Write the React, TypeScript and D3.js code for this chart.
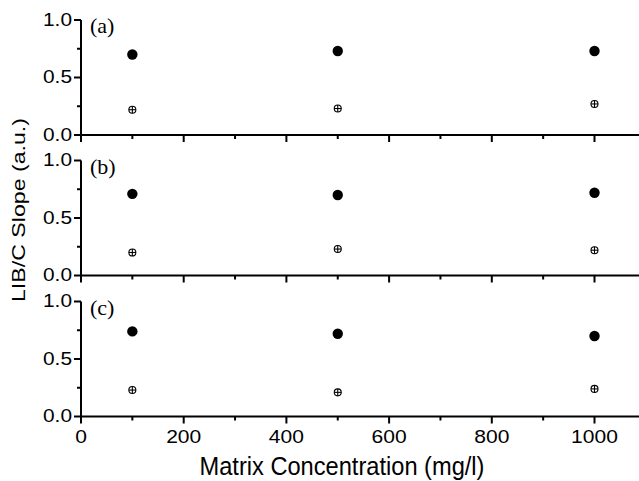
import React from "react";
import * as d3 from "d3";

const concentrations = [100, 500, 1000];
const panelLabels = ["(a)", "(b)", "(c)"];
const filledSeries = [
  [0.70, 0.73, 0.73],
  [0.71, 0.70, 0.72],
  [0.74, 0.72, 0.70],
];
const crossedSeries = [
  [0.22, 0.23, 0.27],
  [0.20, 0.23, 0.22],
  [0.23, 0.21, 0.24],
];
const xTicks = [0, 200, 400, 600, 800, 1000];
const xMinor = [100, 300, 500, 700, 900];
const yTicks = [0, 0.5, 1.0];
const yMinor = [0.25, 0.75];

const W = 639;
const H = 481;
const left = 81;
const panelTops = [20, 160.5, 301.5];
const panelH = 115;
const SANS = "Liberation Sans, Arial, sans-serif";

export default function App() {
  const x = d3.scaleLinear().domain([0, 1000]).range([left, 594.5]);
  const xEnd = 639;
  return (
    <svg width={W} height={H} style={{ position: "absolute", left: 0, top: 0, background: "#fff" }}>
      {panelTops.map((top, pi) => {
        const y = d3.scaleLinear().domain([0, 1]).range([top + panelH, top]);
        const base = top + panelH;
        return (
          <g key={pi}>
            <line x1={left} x2={left} y1={top} y2={base} stroke="#000" strokeWidth={2} />
            {yTicks.map((t) => (
              <g key={t}>
                <line x1={left - 7} x2={left} y1={y(t)} y2={y(t)} stroke="#000" strokeWidth={2} />
                <text
                  x={left - 9}
                  y={y(t) + 5.5}
                  textAnchor="end"
                  fontFamily={SANS}
                  fontSize={18.5}
                  textLength={29}
                  lengthAdjust="spacingAndGlyphs"
                >
                  {d3.format(".1f")(t)}
                </text>
              </g>
            ))}
            {yMinor.map((t) => (
              <line key={t} x1={left - 4} x2={left} y1={y(t)} y2={y(t)} stroke="#000" strokeWidth={2} />
            ))}
            <line x1={left - 1} x2={xEnd} y1={base} y2={base} stroke="#000" strokeWidth={2.2} />
            {xTicks.map((t) => (
              <line key={t} x1={x(t)} x2={x(t)} y1={base} y2={base + 7} stroke="#000" strokeWidth={2} />
            ))}
            {xMinor.map((t) => (
              <line key={t} x1={x(t)} x2={x(t)} y1={base} y2={base + 4} stroke="#000" strokeWidth={2} />
            ))}
            {pi === 2 &&
              xTicks.map((t) => (
                <text
                  key={t}
                  x={x(t)}
                  y={base + 26}
                  textAnchor="middle"
                  fontFamily={SANS}
                  fontSize={18.5}
                  textLength={String(t).length * 11.7}
                  lengthAdjust="spacingAndGlyphs"
                >
                  {t}
                </text>
              ))}
            <text x={90} y={top + 13} fontFamily="Liberation Serif, Times New Roman, serif" fontSize={22}>
              {panelLabels[pi]}
            </text>
            {concentrations.map((c, i) => (
              <circle key={"f" + i} cx={x(c)} cy={y(filledSeries[pi][i])} r={5.2} fill="#000" />
            ))}
            {concentrations.map((c, i) => {
              const cx = x(c);
              const cy = y(crossedSeries[pi][i]);
              const r = 3.5;
              return (
                <g key={"c" + i}>
                  <circle cx={cx} cy={cy} r={r} fill="#fff" stroke="#000" strokeWidth={1.1} />
                  <line x1={cx - r} x2={cx + r} y1={cy} y2={cy} stroke="#000" strokeWidth={1.1} />
                  <line x1={cx} x2={cx} y1={cy - r} y2={cy + r} stroke="#000" strokeWidth={1.1} />
                </g>
              );
            })}
          </g>
        );
      })}
      <text
        transform={`translate(25, 210) rotate(-90)`}
        textAnchor="middle"
        fontFamily={SANS}
        fontSize={18.5}
        textLength={184}
        lengthAdjust="spacingAndGlyphs"
      >
        LIB/C Slope (a.u.)
      </text>
      <text
        x={342}
        y={475}
        textAnchor="middle"
        fontFamily={SANS}
        fontSize={25}
        textLength={285}
        lengthAdjust="spacingAndGlyphs"
      >
        Matrix Concentration (mg/l)
      </text>
    </svg>
  );
}
